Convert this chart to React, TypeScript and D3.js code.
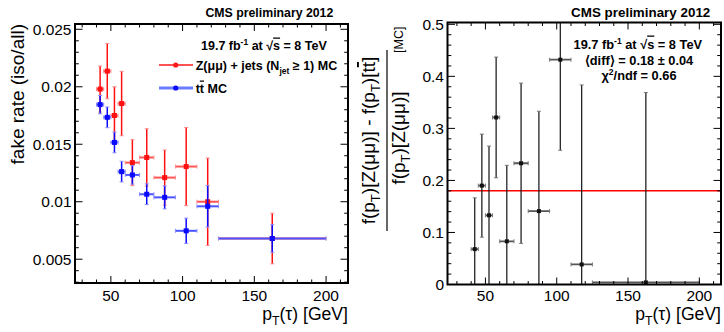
import React from "react";
import * as d3 from "d3";

// ---------- data ----------
const binLow = [40, 45, 50, 55, 60, 70, 80, 95, 110, 125];
const binHigh = [45, 50, 55, 60, 70, 80, 95, 110, 125, 200];
const binCenter = [42.5, 47.5, 52.5, 57.5, 65, 75, 87.5, 102.5, 117.5, 162.5];

const zjetsRate = [0.0198, 0.02136, 0.0175, 0.01854, 0.0134, 0.01385, 0.0121, 0.01306, 0.01, 0.0068];
const zjetsErr = [0.002, 0.0024, 0.0025, 0.0028, 0.002, 0.0025, 0.0024, 0.0034, 0.0038, 0.0022];

const ttbarRate = [0.01845, 0.01734, 0.01516, 0.01262, 0.01233, 0.01065, 0.01038, 0.00747, 0.0096, 0.0068];
const ttbarErr = [0.0008, 0.0009, 0.0009, 0.0009, 0.0008, 0.0009, 0.001, 0.0011, 0.0018, 0.0012];

const relDiff = [0.068, 0.19, 0.133, 0.321, 0.083, 0.233, 0.141, 0.432, 0.0385, 0.004];
const relDiffErr = [0.0985, 0.099, 0.133, 0.116, 0.146, 0.154, 0.192, 0.174, 0.345, 0.365];
const meanDiff = 0.18;

const xTicks = [50, 100, 150, 200];
const xTickLabels = ["50", "100", "150", "200"];
const leftYTicks = [0.005, 0.01, 0.015, 0.02, 0.025];
const leftYTickLabels = ["0.005", "0.01", "0.015", "0.02", "0.025"];
const rightYTicks = [0, 0.1, 0.2, 0.3, 0.4, 0.5];
const rightYTickLabels = ["0", "0.1", "0.2", "0.3", "0.4", "0.5"];

const FONT = "'Liberation Sans', Arial, Helvetica, sans-serif";

type Scale = d3.ScaleLinear<number, number>;

function Clip({ x, y, id }: { x: Scale; y: Scale; id: string }) {
  const [x0, x1] = x.range();
  const [y1, y0] = y.range();
  return (
    <clipPath id={id}>
      <rect x={x0} y={y0} width={x1 - x0} height={y1 - y0} />
    </clipPath>
  );
}

function Axes({
  x,
  y,
  yTicks,
  yTickLabels,
  yMinorStep,
}: {
  x: Scale;
  y: Scale;
  yTicks: number[];
  yTickLabels: string[];
  yMinorStep: number;
}) {
  const [x0, x1] = x.range();
  const [y1, y0] = y.range();
  const [xd0, xd1] = x.domain();
  const [yd0, yd1] = y.domain();
  const xMinor = d3.range(Math.ceil(xd0 / 10) * 10, xd1, 10);
  const yMinor = d3.range(Math.ceil(yd0 / yMinorStep - 1e-6) * yMinorStep, yd1, yMinorStep);
  const isMajorX = (v: number) => Math.abs(v / 50 - Math.round(v / 50)) < 1e-6;
  const majStepY = yMinorStep * 5;
  const isMajorY = (v: number) => Math.abs(v / majStepY - Math.round(v / majStepY)) < 1e-4;
  return (
    <g>
      {xMinor.map((v, i) => {
        const L = isMajorX(v) ? 7 : 3.5;
        const px = x(v);
        return (
          <g key={"xt" + i} stroke="#000" strokeWidth={1}>
            <line x1={px} x2={px} y1={y1} y2={y1 - L} />
            <line x1={px} x2={px} y1={y0} y2={y0 + L} />
          </g>
        );
      })}
      {yMinor.map((v, i) => {
        const L = isMajorY(v) ? 7.5 : 3.8;
        const py = y(v);
        return (
          <g key={"yt" + i} stroke="#000" strokeWidth={1}>
            <line x1={x0} x2={x0 + L} y1={py} y2={py} />
            <line x1={x1} x2={x1 - L} y1={py} y2={py} />
          </g>
        );
      })}
      {xTicks.map((v, i) => (
        <text key={"xl" + i} x={x(v)} y={301} textAnchor="middle" fontSize={15.5} fontFamily={FONT}>
          {xTickLabels[i]}
        </text>
      ))}
      {yTicks.map((v, i) => (
        <text
          key={"yl" + i}
          x={x0 - 3.5}
          y={y(v) + 5.5}
          textAnchor="end"
          fontSize={15.5}
          fontFamily={FONT}
        >
          {yTickLabels[i]}
        </text>
      ))}
      <rect x={x0} y={y0} width={x1 - x0} height={y1 - y0} fill="none" stroke="#000" strokeWidth={2} />
      <text x={x1} y={320} textAnchor="end" fontSize={17.6} fontFamily={FONT}>
        p<tspan fontSize={12.3} dy={4.5}>T</tspan>
        <tspan dy={-4.5}>(τ) [GeV]</tspan>
      </text>
    </g>
  );
}

function ErrorSeries({
  x,
  y,
  values,
  errors,
  color,
  hColor,
  capColor,
  width,
  hWidth,
  marker,
}: {
  x: Scale;
  y: Scale;
  values: number[];
  errors: number[];
  color: string;
  hColor: string;
  capColor: string;
  width: number;
  hWidth: number;
  marker: number;
}) {
  const [yd0, yd1] = y.domain();
  return (
    <g>
      {values.map((v, i) => {
        const cx = x(binCenter[i]);
        const cy = y(v);
        const lo = Math.max(v - errors[i], yd0);
        const hi = Math.min(v + errors[i], yd1);
        const xl = x(binLow[i]);
        const xh = x(binHigh[i]);
        return (
          <g key={i}>
            <line x1={xl} x2={xh} y1={cy} y2={cy} stroke={hColor} strokeWidth={hWidth} />
            <line x1={cx} x2={cx} y1={y(lo)} y2={y(hi)} stroke={color} strokeWidth={width} />
            {v - errors[i] > yd0 && (
              <line x1={cx - 2} x2={cx + 2} y1={y(lo)} y2={y(lo)} stroke={capColor} strokeWidth={1} />
            )}
            {v + errors[i] < yd1 && (
              <line x1={cx - 2} x2={cx + 2} y1={y(hi)} y2={y(hi)} stroke={capColor} strokeWidth={1} />
            )}
            <line x1={xl} x2={xl} y1={cy - 2} y2={cy + 2} stroke={capColor} strokeWidth={1} />
            <line x1={xh} x2={xh} y1={cy - 2} y2={cy + 2} stroke={capColor} strokeWidth={1} />
            <rect x={cx - marker / 2} y={cy - marker / 2} width={marker} height={marker} fill={color} />
          </g>
        );
      })}
    </g>
  );
}

export default function App() {
  // left panel scales
  const xL = d3.scaleLinear().domain([25, 215.3]).range([75, 348]);
  const yL = d3.scaleLinear().domain([0.00293, 0.02546]).range([283, 24]);
  // right panel scales
  const xR = d3.scaleLinear().domain([23.4, 215.2]).range([447.5, 721]);
  const yR = d3.scaleLinear().domain([0, 0.5035]).range([284.5, 22.5]);

  return (
    <svg width={724} height={332} style={{ position: "absolute", left: 0, top: 0, background: "#fff" }}>
      <rect x={0} y={0} width={724} height={332} fill="#fff" />
      <defs>
        <Clip x={xL} y={yL} id="clipL" />
        <Clip x={xR} y={yR} id="clipR" />
      </defs>

      {/* ---------- left panel ---------- */}
      <text x={333.3} y={16.5} textAnchor="end" fontSize={12.3} fontWeight="bold" fontFamily={FONT}>
        CMS preliminary 2012
      </text>
      <g clipPath="url(#clipL)">
        <ErrorSeries x={xL} y={yL} values={zjetsRate} errors={zjetsErr} color="#ff1010" hColor="#ff5555" capColor="#ff8a8a" width={1.5} hWidth={2} marker={5} />
        <ErrorSeries x={xL} y={yL} values={ttbarRate} errors={ttbarErr} color="#0808ff" hColor="#4a55ff" capColor="#8a8aff" width={1.5} hWidth={2} marker={5} />
      </g>
      <Axes x={xL} y={yL} yTicks={leftYTicks} yTickLabels={leftYTickLabels} yMinorStep={0.001} />
      <text transform="translate(24,24) rotate(-90)" textAnchor="end" fontSize={19} fontFamily={FONT}>
        fake rate (iso/all)
      </text>
      {/* legend */}
      <text x={201} y={49.5} fontSize={12.5} fontWeight="bold" fontFamily={FONT}>
        19.7 fb<tspan fontSize={8.5} dy={-5}>-1</tspan>
        <tspan dy={5}> at √</tspan>
        <tspan textDecoration="overline">s</tspan>
        <tspan> = 8 TeV</tspan>
      </text>
      <line x1={159} x2={193} y1={65} y2={65} stroke="#ff1a1a" strokeWidth={1.5} />
      <circle cx={175.7} cy={65} r={2.6} fill="#ff1a1a" />
      <text x={195.7} y={69.5} fontSize={12.5} fontWeight="bold" fontFamily={FONT}>
        Z(μμ) + jets (N<tspan fontSize={8.5} dy={4}>jet</tspan>
        <tspan dy={-4}> ≥ 1) MC</tspan>
      </text>
      <line x1={159} x2={193} y1={88} y2={88} stroke="#6c7cff" strokeWidth={3} />
      <circle cx={175.7} cy={88} r={2.6} fill="#0a0aff" />
      <text x={195.7} y={92.5} fontSize={12.5} fontWeight="bold" fontFamily={FONT}>
        t<tspan textDecoration="overline">t</tspan> MC
      </text>

      {/* ---------- right panel ---------- */}
      <text x={710.3} y={16.5} textAnchor="end" fontSize={13.4} fontWeight="bold" fontFamily={FONT}>
        CMS preliminary 2012
      </text>
      <g clipPath="url(#clipR)">
        <line x1={xR.range()[0]} x2={xR.range()[1]} y1={yR(meanDiff)} y2={yR(meanDiff)} stroke="#ff0000" strokeWidth={1.5} />
        <ErrorSeries x={xR} y={yR} values={relDiff} errors={relDiffErr} color="#111" hColor="#555" capColor="#777" width={1.2} hWidth={1.8} marker={4} />
      </g>
      <Axes x={xR} y={yR} yTicks={rightYTicks} yTickLabels={rightYTickLabels} yMinorStep={0.02} />
      <g fontSize={12.8} fontWeight="bold" fontFamily={FONT} textAnchor="middle">
        <text x={637.8} y={48.5}>
          19.7 fb<tspan fontSize={8.5} dy={-5}>-1</tspan>
          <tspan dy={5}> at √</tspan>
          <tspan textDecoration="overline">s</tspan>
          <tspan> = 8 TeV</tspan>
        </text>
        <text x={639} y={64.5}>⟨diff⟩ = 0.18 ± 0.04</text>
        <text x={639} y={79.5}>
          χ<tspan fontSize={8.5} dy={-5}>2</tspan>
          <tspan dy={5}>/ndf = 0.66</tspan>
        </text>
      </g>
      {/* right y title: fraction */}
      <g fontFamily={FONT}>
        <text transform="translate(375,140.5) rotate(-90)" textAnchor="middle" fontSize={19}>
          f(p<tspan fontSize={13} dy={4.5}>T</tspan>
          <tspan dy={-4.5}>)[Z(μμ)] - f(p</tspan>
          <tspan fontSize={13} dy={4.5}>T</tspan>
          <tspan dy={-4.5}>)[t</tspan>
          <tspan textDecoration="overline">t</tspan>
          <tspan>]</tspan>
        </text>
        <line x1={387} x2={387} y1={50} y2={231} stroke="#000" strokeWidth={1.2} />
        <text transform="translate(405,138) rotate(-90)" textAnchor="middle" fontSize={19}>
          f(p<tspan fontSize={13} dy={4.5}>T</tspan>
          <tspan dy={-4.5}>)[Z(μμ)]</tspan>
        </text>
        <text transform="translate(403,53) rotate(-90)" textAnchor="start" fontSize={12.5}>
          [MC]
        </text>
      </g>
    </svg>
  );
}
